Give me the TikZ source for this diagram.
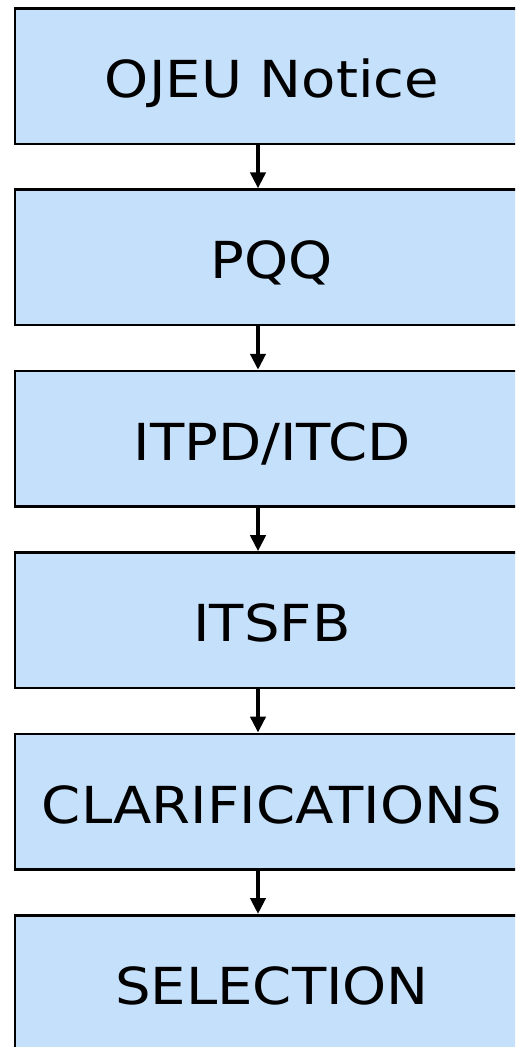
\documentclass[tikz,border=0pt]{standalone}
\usepackage{fontspec}
\setmainfont{DejaVu Sans}[FakeStretch=1.1]
\usetikzlibrary{arrows.meta,positioning}

\definecolor{stagefill}{RGB}{197,224,251}

\begin{document}
\begin{tikzpicture}[
  x=1pt, y=1pt,
  node distance=43.4pt,
  stage/.style={draw, line width=2.5pt, fill=stagefill, minimum width=514pt, minimum height=135.5pt, inner sep=0pt, text height=43pt, text depth=0pt, font=\fontsize{51}{60}\selectfont},
  arrow/.style={-{Triangle[length=16pt,width=15pt]}, line width=4pt}
]
\useasboundingbox (0,0) rectangle (515,-1047);
\clip (0,0) rectangle (515,-1047);
\node[stage] (ojeu) at (272,-76) {OJEU Notice};
\node[stage, below=of ojeu] (pqq) {PQQ};
\node[stage, below=of pqq] (itpd) {ITPD/ITCD};
\node[stage, below=of itpd] (itsfb) {ITSFB};
\node[stage, below=of itsfb] (clarif) {CLARIFICATIONS};
\node[stage, below=of clarif] (select) {SELECTION};
\draw[arrow] ([xshift=-14pt]ojeu.south) -- ([xshift=-14pt]pqq.north);
\draw[arrow] ([xshift=-14pt]pqq.south) -- ([xshift=-14pt]itpd.north);
\draw[arrow] ([xshift=-14pt]itpd.south) -- ([xshift=-14pt]itsfb.north);
\draw[arrow] ([xshift=-14pt]itsfb.south) -- ([xshift=-14pt]clarif.north);
\draw[arrow] ([xshift=-14pt]clarif.south) -- ([xshift=-14pt]select.north);
\end{tikzpicture}
\end{document}
